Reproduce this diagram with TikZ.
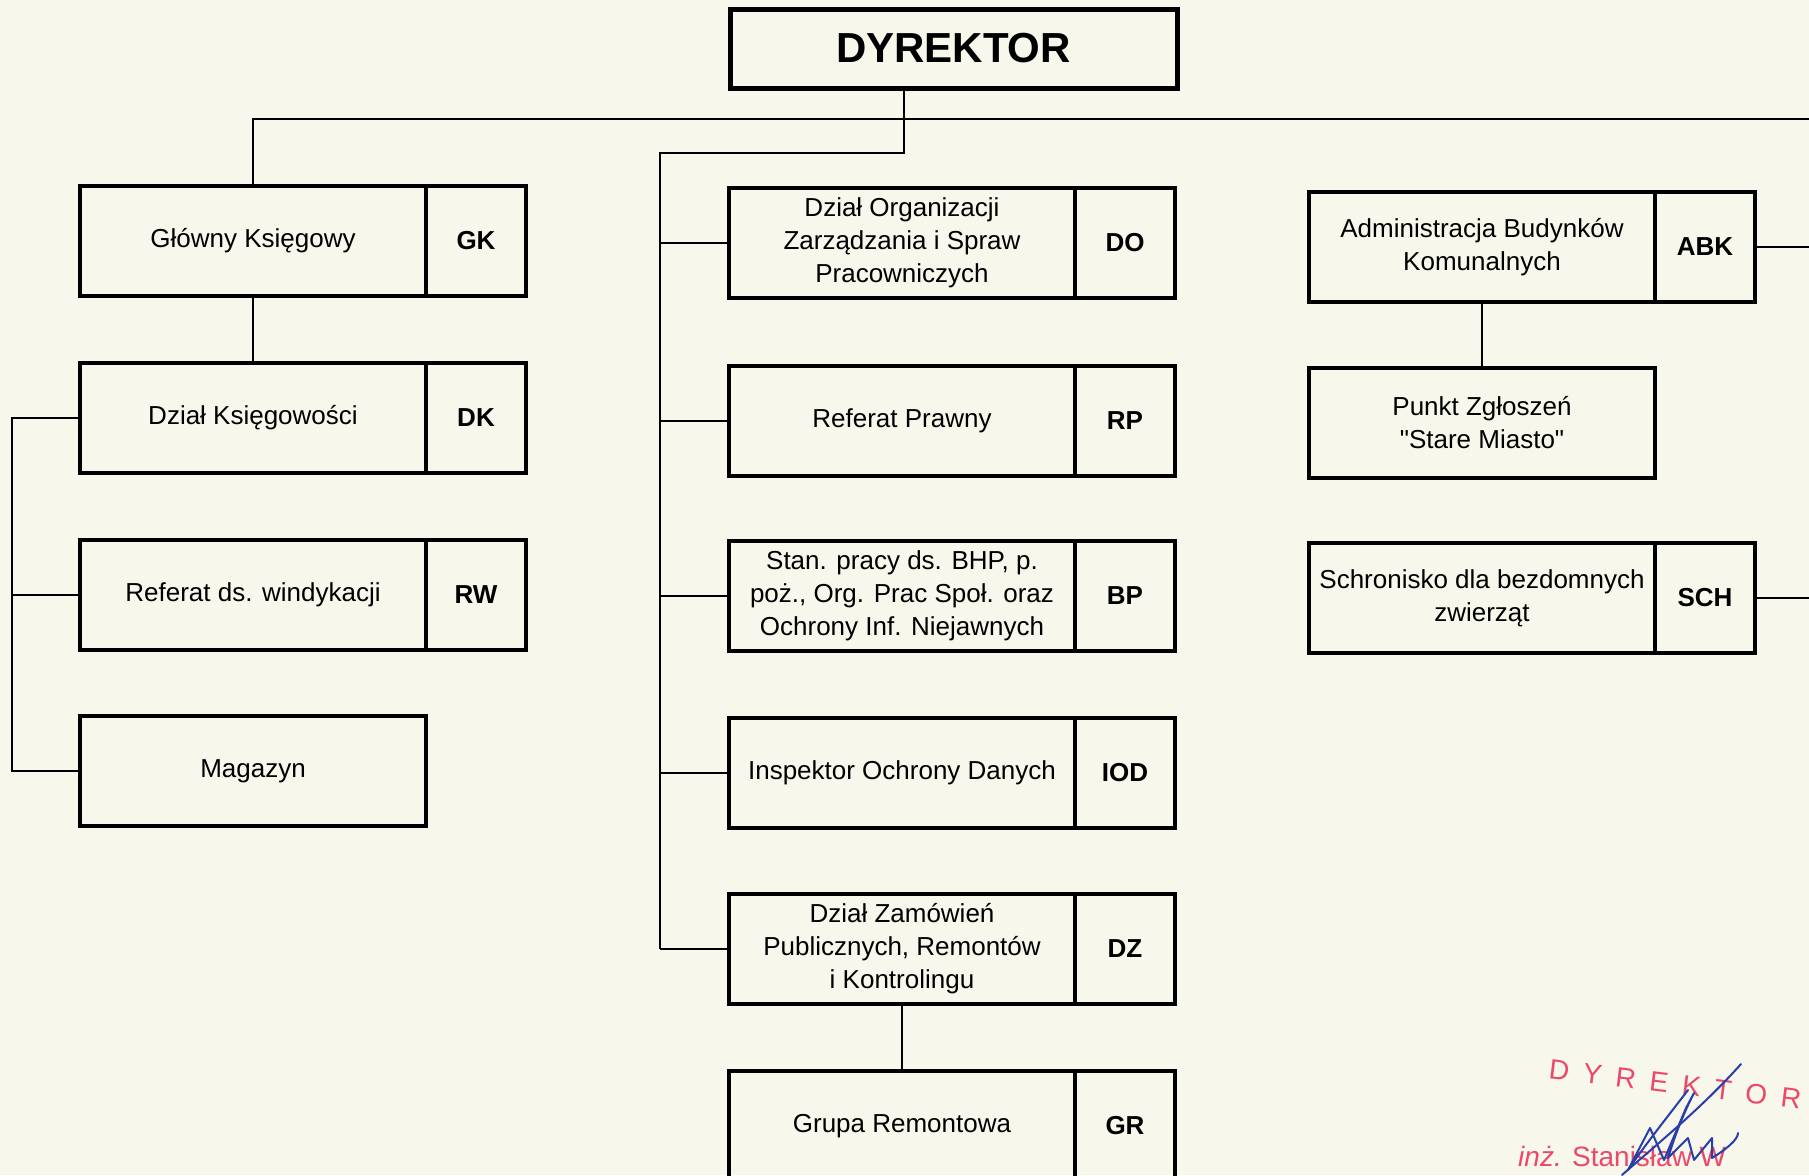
\documentclass[tikz,border=0pt]{standalone}
\usepackage{fontspec}
\setmainfont{Liberation Sans}[Ligatures=TeXOff]
\definecolor{bg}{RGB}{247,247,236}
\definecolor{stampred}{RGB}{236,72,104}
\definecolor{inkblue}{RGB}{40,62,168}
\begin{document}
\begin{tikzpicture}[x=1pt,y=-1pt,
  box/.style={draw=black, line width=4.4pt, inner sep=0pt, outer sep=0pt,
    minimum height=110pt, align=center, anchor=north west,
    font=\fontsize{26}{33}\selectfont},
  namebox/.style={box, minimum width=346pt},
  codebox/.style={box, minimum width=100pt, font=\fontsize{26}{33}\selectfont\bfseries},
  conn/.style={line width=2pt},
  stamp/.style={text=stampred, inner sep=0pt, anchor=base west}]
\useasboundingbox (0,0) rectangle (1809,1175);
\clip (0,0) rectangle (1809,1175);
\fill[bg] (0,0) rectangle (1809,1175);

% director
\node[box, line width=5pt, minimum width=447pt, minimum height=79pt,
      font=\fontsize{42}{50}\selectfont\bfseries] (dyr) at (730,9) {DYREKTOR};

% left column
\node[namebox] (gk) at (80,186) {Główny Księgowy};
\node[codebox] (gkc) at (gk.north east) {GK};
\node[namebox] (dk) at (80,363) {Dział Księgowości};
\node[codebox] (dkc) at (dk.north east) {DK};
\node[namebox] (rw) at (80,540) {Referat ds. windykacji};
\node[codebox] (rwc) at (rw.north east) {RW};
\node[namebox] (mag) at (80,716) {Magazyn};

% middle column
\node[namebox] (do) at (729,188) {Dział Organizacji\\Zarządzania i Spraw\\Pracowniczych};
\node[codebox] (doc) at (do.north east) {DO};
\node[namebox] (rp) at (729,366) {Referat Prawny};
\node[codebox] (rpc) at (rp.north east) {RP};
\node[namebox] (bp) at (729,541) {Stan. pracy ds. BHP, p.\\poż., Org. Prac Społ. oraz\\Ochrony Inf. Niejawnych};
\node[codebox] (bpc) at (bp.north east) {BP};
\node[namebox] (iod) at (729,718) {Inspektor Ochrony Danych};
\node[codebox] (iodc) at (iod.north east) {IOD};
\node[namebox] (dz) at (729,894) {Dział Zamówień\\Publicznych, Remontów\\i Kontrolingu};
\node[codebox] (dzc) at (dz.north east) {DZ};
\node[namebox] (gr) at (729,1071) {Grupa Remontowa};
\node[codebox] (grc) at (gr.north east) {GR};

% right column
\node[namebox] (abk) at (1309,192) {Administracja Budynków\\Komunalnych};
\node[codebox] (abkc) at (abk.north east) {ABK};
\node[namebox] (pz) at (1309,368) {Punkt Zgłoszeń\\"Stare Miasto"};
\node[namebox] (sch) at (1309,543) {Schronisko dla bezdomnych\\zwierząt};
\node[codebox] (schc) at (sch.north east) {SCH};

% connectors
\coordinate (j1) at (904,119);
\coordinate (redge) at (1809,119);
\coordinate (j2) at (904,153);
\coordinate (mbus) at (660,153);
\coordinate (lbus) at (12,0);
\draw[conn] (dyr.south -| j1) -- (j1);
\draw[conn] (gk.north) |- (redge);
\draw[conn] (j1) -- (j2) -- (mbus) -- (mbus |- dz.west);
\foreach \n in {do,rp,bp,iod,dz}
  \draw[conn] (\n.west) -- (\n.west -| mbus);
\draw[conn] (gk.south) -- (dk.north);
\draw[conn] (dk.west) -- (dk.west -| lbus) -- (mag.west -| lbus) -- (mag.west);
\draw[conn] (rw.west) -- (rw.west -| lbus);
\draw[conn] (dz.south) -- (gr.north);
\draw[conn] (abk.south) -- (pz.north);
\draw[conn] (abkc.east) -- (abkc.east -| redge);
\draw[conn] (schc.east) -- (schc.east -| redge);

% stamp
\node[stamp, rotate=-7, font=\fontsize{28}{28}\selectfont] (st1) at (1548,1078)
  {D\hspace{14pt}Y\hspace{14pt}R\hspace{14pt}E\hspace{14pt}K\hspace{14pt}T\hspace{14pt}O\hspace{14pt}R};
\node[stamp, font=\fontsize{28}{28}\selectfont] (st2) at (1518,1166)
  {\textit{inż.} Stanisław W};
% signature
\draw[inkblue, line width=2pt, line cap=round, line join=round]
  (1741,1064) .. controls (1700,1110) and (1650,1150) .. (1622,1175);
\draw[inkblue, line width=2pt, line cap=round, line join=round]
  (1688,1090) .. controls (1665,1120) and (1645,1145) .. (1628,1170)
  -- (1650,1128) -- (1664,1160) -- (1686,1108)
  -- (1694,1093) .. controls (1680,1120) and (1672,1145) .. (1668,1158)
  -- (1688,1138) -- (1694,1160) -- (1712,1138) -- (1712,1158)
  .. controls (1725,1150) and (1738,1140) .. (1738,1133);
\end{tikzpicture}
\end{document}
